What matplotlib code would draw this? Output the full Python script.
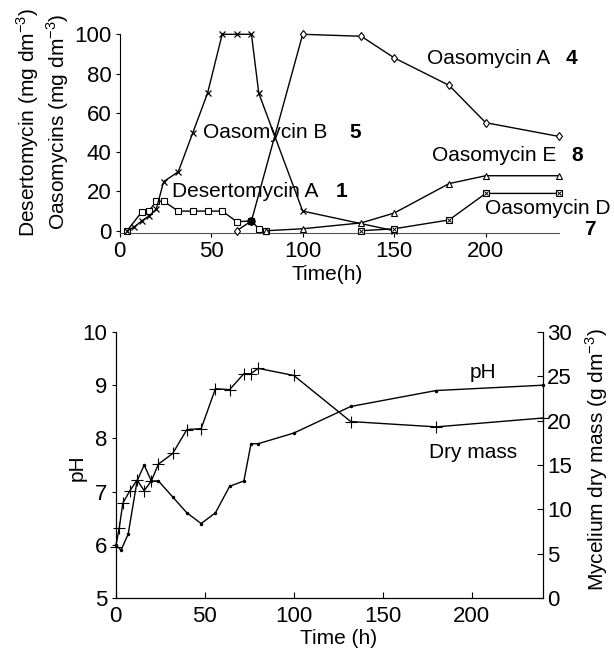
import matplotlib
matplotlib.use("Agg")
import matplotlib.pyplot as plt

plt.rcParams['font.family'] = ['Liberation Sans', 'DejaVu Sans']
plt.rcParams['mathtext.fontset'] = 'custom'
plt.rcParams['mathtext.rm'] = 'Liberation Sans'

W, H = 614, 655
FS = 15

# ---------------- top panel data ----------------
desA_t = [4, 12, 16, 20, 24, 32, 40, 48, 56, 64, 72, 76, 80]
desA_v = [0, 9.5, 10, 15, 15, 10, 10, 10, 10, 4.6, 5, 1, 0]

oasB_t = [4, 8, 12, 16, 20, 24, 32, 40, 48, 56, 64, 72, 76, 100, 150]
oasB_v = [0, 2, 5, 7.5, 11, 25, 30, 50, 70, 100, 100, 100, 70, 10, 0]

oasA_t = [64, 72, 100, 132, 150, 180, 200, 240]
oasA_v = [0, 5, 100, 99, 88, 74, 55, 48]

oasE_t = [80, 100, 132, 150, 180, 200, 240]
oasE_v = [0, 1, 4, 9, 24, 28, 28]

oasD_t = [132, 150, 180, 200, 240]
oasD_v = [0, 1, 5.5, 19, 19]

top_xticks = [0, 50, 100, 150, 200]
top_yticks = [0, 20, 40, 60, 80, 100]

# ---------------- bottom panel data ----------------
mass_t = [0, 2, 4, 8, 12, 16, 20, 24, 32, 40, 48, 56, 64, 72, 76, 80, 100, 132, 180, 240]
mass_v = [5.8, 7.9, 10.7, 12.1, 13.3, 12.1, 13.2, 15.1, 16.3, 19.0, 19.1, 23.6, 23.5,
          25.3, 25.3, 25.9, 25.1, 19.9, 19.3, 20.3]

ph_t = [0, 3, 7, 12, 16, 20, 24, 32, 40, 48, 56, 64, 72, 76, 80, 100, 132, 180, 240]
ph_v = [6.0, 5.9, 6.2, 7.2, 7.5, 7.2, 7.2, 6.9, 6.6, 6.4, 6.6, 7.1, 7.2, 7.9, 7.9,
        8.1, 8.6, 8.9, 9.0]

bot_xticks = [0, 50, 100, 150, 200]
ph_ticks = [5, 6, 7, 8, 9, 10]
mass_ticks = [0, 5, 10, 15, 20, 25, 30]

fig = plt.figure(figsize=(W / 100, H / 100), dpi=100)


def ftext(x, y, s, **kw):
    kw.setdefault('fontsize', FS)
    return fig.text(x / W, 1 - y / H, s, **kw)


# ---------------- top axes ----------------
ax1 = fig.add_axes([119.7 / W, 1 - 232.7 / H, (558.9 - 119.7) / W, 198.4 / H])
lw = 1.0
ms = 4.5
ax1.plot(desA_t, desA_v, color='black', lw=lw, marker='s', ms=ms, mfc='white',
         mew=0.8, clip_on=False, zorder=3)
ax1.plot(oasB_t, oasB_v, color='black', lw=lw, marker='x', ms=ms, mew=0.9,
         clip_on=False, zorder=3)
ax1.plot(oasA_t, oasA_v, color='black', lw=lw, marker='d', ms=ms, mfc='white',
         mew=0.8, clip_on=False, zorder=3)
ax1.plot(oasE_t, oasE_v, color='black', lw=lw, marker='^', ms=ms, mfc='white',
         mew=0.8, clip_on=False, zorder=3)
ax1.plot(oasD_t, oasD_v, color='black', lw=lw, marker='s', ms=ms, mfc='white',
         mew=0.8, clip_on=False, zorder=3)
ax1.plot(oasD_t, oasD_v, color='black', lw=0, marker='x', ms=ms - 1.5, mew=0.7,
         clip_on=False, zorder=4)
# filled point where desertomycin and oasomycin A meet
ax1.plot([72], [5], marker='o', ms=5, color='black', zorder=5, clip_on=False)

ax1.set_xlim(0, 240)
ax1.set_ylim(-1, 100)
ax1.set_xticks(top_xticks)
ax1.set_yticks(top_yticks)
ax1.tick_params(axis='both', labelsize=FS + 1, length=3, width=0.8, direction='out', pad=3)
for s in ['top', 'right']:
    ax1.spines[s].set_visible(False)
ax1.spines['left'].set_linewidth(0.8)
ax1.spines['bottom'].set_linewidth(0.8)
ax1.spines['bottom'].set_color('#555555')

ftext(28, 122, 'Desertomycin (mg dm$^{-3}$)', rotation=90, ha='center', va='center')
ftext(58, 122, 'Oasomycins (mg dm$^{-3}$)', rotation=90, ha='center', va='center')
ftext(327, 275, 'Time(h)', ha='center', va='center')

ftext(203, 133, 'Oasomycin B', ha='left', va='center')
ftext(355, 133, '5', ha='center', va='center', fontweight='bold')
ftext(171.7, 191.7, 'Desertomycin A', ha='left', va='center')
ftext(341.7, 191.7, '1', ha='center', va='center', fontweight='bold')
ftext(426.7, 58.3, 'Oasomycin A', ha='left', va='center')
ftext(571.7, 58.3, '4', ha='center', va='center', fontweight='bold')
ftext(431.7, 155, 'Oasomycin E', ha='left', va='center')
ftext(576.7, 155, '8', ha='center', va='center', fontweight='bold')
ftext(485, 208.3, 'Oasomycin D', ha='left', va='center')
ftext(590, 230, '7', ha='center', va='center', fontweight='bold')

# ---------------- bottom axes ----------------
ax2 = fig.add_axes([115.7 / W, 1 - 598 / H, (543 - 115.7) / W, 266 / H])
ax3 = ax2.twinx()
ax2.plot(ph_t, ph_v, color='black', lw=lw, marker='.', ms=3, clip_on=False, zorder=3)
ax3.plot(mass_t, mass_v, color='black', lw=lw, marker='+', ms=8, mew=0.8,
         clip_on=False, zorder=3)

ax2.set_xlim(0, 240)
ax2.set_ylim(5, 10)
ax3.set_ylim(0, 30)
ax2.set_xticks(bot_xticks)
ax2.set_yticks(ph_ticks)
ax3.set_yticks(mass_ticks)
ax2.tick_params(axis='x', labelsize=FS + 1, length=4, width=0.8, direction='in', pad=6)
ax2.tick_params(axis='y', labelsize=FS + 1, length=3, width=0.8, direction='out', pad=3)
ax3.tick_params(axis='y', labelsize=FS + 1, length=4, width=0.8, direction='in', pad=3)
for a in (ax2, ax3):
    a.spines['top'].set_visible(False)
    for s in ['left', 'right', 'bottom']:
        a.spines[s].set_linewidth(0.8)

ftext(77, 468, 'pH', rotation=90, ha='center', va='center')
ftext(597, 460, 'Mycelium dry mass (g dm$^{-3}$)', rotation=90, ha='center', va='center')
ftext(339, 638, 'Time (h)', ha='center', va='center')
ftext(483, 372, 'pH', ha='center', va='center')
ftext(473, 452, 'Dry mass', ha='center', va='center')

fig.savefig('out.png', dpi=100)
